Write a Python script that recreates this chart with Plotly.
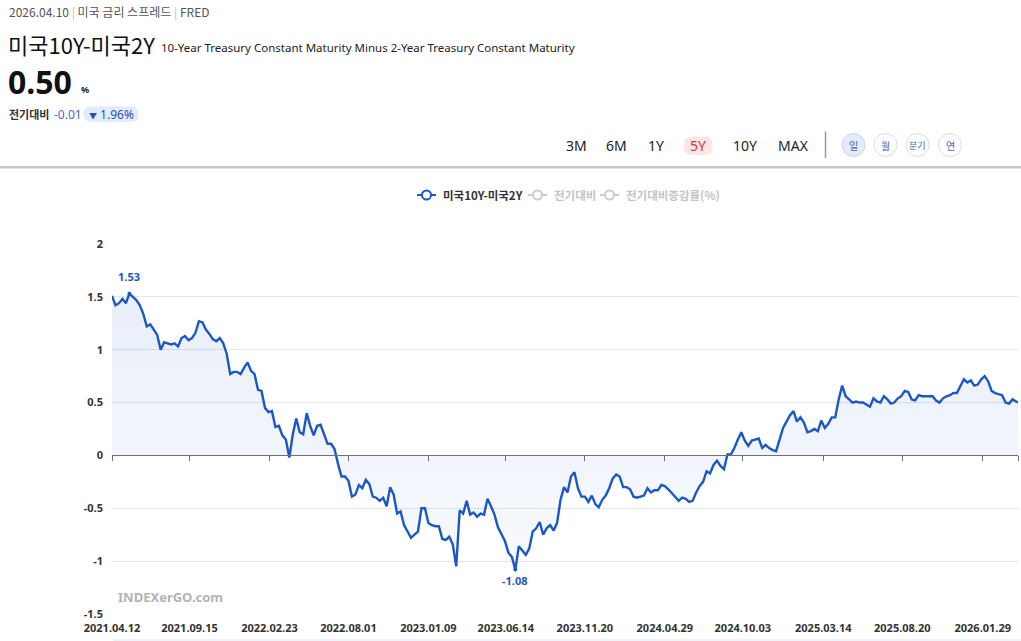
import plotly.graph_objects as go
import pandas as pd

# ---------------- data ----------------
DATES = [d.strftime("%Y-%m-%d") for d in pd.date_range("2021-04-12", periods=261, freq="7D")] + ["2026-04-10"]
SPREAD = [
    1.51, 1.42, 1.44, 1.48, 1.44, 1.53, 1.50, 1.47, 1.42, 1.34,
    1.22, 1.24, 1.19, 1.14, 1.00, 1.07, 1.06, 1.05, 1.06, 1.03,
    1.11, 1.13, 1.09, 1.11, 1.16, 1.27, 1.26, 1.19, 1.15, 1.10,
    1.08, 1.11, 1.06, 0.96, 0.77, 0.79, 0.79, 0.77, 0.83, 0.88,
    0.80, 0.77, 0.62, 0.61, 0.45, 0.41, 0.42, 0.27, 0.28, 0.19,
    0.15, -0.02, 0.20, 0.35, 0.22, 0.20, 0.40, 0.28, 0.19, 0.28,
    0.29, 0.20, 0.11, 0.11, 0.06, -0.08, -0.20, -0.20, -0.24, -0.39,
    -0.37, -0.28, -0.31, -0.23, -0.27, -0.39, -0.40, -0.43, -0.40, -0.48,
    -0.30, -0.37, -0.55, -0.53, -0.66, -0.72, -0.78, -0.75, -0.72, -0.50,
    -0.50, -0.64, -0.66, -0.67, -0.67, -0.79, -0.80, -0.77, -0.84, -1.05,
    -0.52, -0.55, -0.43, -0.56, -0.54, -0.58, -0.55, -0.56, -0.41, -0.48,
    -0.56, -0.68, -0.75, -0.81, -0.92, -0.96, -1.08, -0.86, -0.90, -0.94,
    -0.88, -0.72, -0.69, -0.63, -0.75, -0.69, -0.66, -0.71, -0.64, -0.42,
    -0.30, -0.35, -0.20, -0.16, -0.31, -0.39, -0.39, -0.44, -0.38, -0.46,
    -0.49, -0.42, -0.38, -0.31, -0.22, -0.18, -0.20, -0.30, -0.30, -0.32,
    -0.39, -0.40, -0.39, -0.38, -0.31, -0.35, -0.33, -0.33, -0.28, -0.29,
    -0.32, -0.36, -0.39, -0.43, -0.40, -0.41, -0.44, -0.43, -0.35, -0.29,
    -0.25, -0.15, -0.17, -0.09, -0.05, -0.10, -0.13, 0.01, 0.01, 0.07,
    0.15, 0.22, 0.14, 0.09, 0.14, 0.15, 0.16, 0.07, 0.10, 0.07,
    0.05, 0.04, 0.14, 0.26, 0.32, 0.38, 0.42, 0.32, 0.36, 0.31,
    0.22, 0.23, 0.25, 0.23, 0.33, 0.26, 0.30, 0.36, 0.36, 0.53,
    0.66, 0.56, 0.53, 0.50, 0.51, 0.50, 0.50, 0.48, 0.46, 0.54,
    0.51, 0.50, 0.56, 0.53, 0.49, 0.50, 0.54, 0.56, 0.61, 0.60,
    0.53, 0.52, 0.57, 0.56, 0.56, 0.56, 0.56, 0.52, 0.50, 0.54,
    0.56, 0.57, 0.59, 0.59, 0.66, 0.72, 0.69, 0.71, 0.66, 0.67,
    0.72, 0.75, 0.70, 0.61, 0.59, 0.58, 0.57, 0.50, 0.49, 0.53,
    0.51, 0.50,
]
TICK_DATES = ["2021-04-12", "2021-09-15", "2022-02-23", "2022-08-01", "2023-01-09", "2023-06-14",
              "2023-11-20", "2024-04-29", "2024-10-03", "2025-03-14", "2025-08-20", "2026-01-29"]
TICK_TEXT = ["2021.04.12", "2021.09.15", "2022.02.23", "2022.08.01", "2023.01.09", "2023.06.14",
             "2023.11.20", "2024.04.29", "2024.10.03", "2025.03.14", "2025.08.20", "2026.01.29"]
Y_TICKS = [-1.5, -1, -0.5, 0, 0.5, 1, 1.5, 2]
Y_TEXT = ["-1.5", "-1", "-0.5", "0", "0.5", "1", "1.5", "2"]
LEGEND_NAMES = ["미국10Y-미국2Y", "전기대비", "전기대비증감률(%)"]
PERIOD_BUTTONS = ["3M", "6M", "1Y", "5Y", "10Y", "MAX"]
FREQ_BUTTONS = ["일", "월", "분기", "연"]

# ---------------- geometry helpers ----------------
W, H = 1021, 641
L, R, T, B = 112, 3, 244, 27
PW, PH = W - L - R, H - T - B
YMIN, YMAX = -1.5, 2.0


def px(x):
    return (x - L) / PW


def py(y):
    return (H - B - y) / PH


def roundrect(x0, y0, x1, y1, r):
    return (f"M {px(x0 + r)},{py(y0)} L {px(x1 - r)},{py(y0)} Q {px(x1)},{py(y0)} {px(x1)},{py(y0 + r)} "
            f"L {px(x1)},{py(y1 - r)} Q {px(x1)},{py(y1)} {px(x1 - r)},{py(y1)} "
            f"L {px(x0 + r)},{py(y1)} Q {px(x0)},{py(y1)} {px(x0)},{py(y1 - r)} "
            f"L {px(x0)},{py(y0 + r)} Q {px(x0)},{py(y0)} {px(x0 + r)},{py(y0)} Z")


BLUE = "#1c58c5"
FONT = "Noto Sans, Noto Sans CJK KR, sans-serif"
KFONT = "Noto Sans CJK KR, Noto Sans, sans-serif"

fig = go.Figure()

# main series
fig.add_trace(go.Scatter(
    x=DATES, y=SPREAD, mode="lines", showlegend=False, name=LEGEND_NAMES[0],
    line=dict(color=BLUE, width=2.4),
    fill="tozeroy",
    fillgradient=dict(type="vertical",
                      colorscale=[[0, "rgba(28,88,197,0.02)"], [1, "rgba(28,88,197,0.10)"]],
                      start=YMIN, stop=1.6),
    hoverinfo="x+y",
))

# max / min points
imax = max(range(len(SPREAD)), key=lambda i: SPREAD[i])
imin = min(range(len(SPREAD)), key=lambda i: SPREAD[i])
fig.add_trace(go.Scatter(
    x=[DATES[imax], DATES[imin]], y=[SPREAD[imax], SPREAD[imin]],
    mode="markers", marker=dict(size=4, color=BLUE), showlegend=False, hoverinfo="skip",
))
fig.add_annotation(x=DATES[imax], y=SPREAD[imax], text=f"<b>{SPREAD[imax]:.2f}</b>", showarrow=False,
                   yshift=17, font=dict(size=11, color=BLUE, family=FONT))
fig.add_annotation(x=DATES[imin], y=SPREAD[imin], text=f"<b>{SPREAD[imin]:.2f}</b>", showarrow=False,
                   yshift=-11, font=dict(size=11, color=BLUE, family=FONT))

# invisible trace for the zero-axis tick marks
fig.add_trace(go.Scatter(x=[DATES[0], DATES[-1]], y=[None, None], xaxis="x2", showlegend=False,
                         hoverinfo="skip", mode="lines"))

# ---------------- header annotations ----------------
ann = []
shapes = []


def add_text(x, y, text, size, color, xanchor="left", family=FONT):
    ann.append(dict(xref="paper", yref="paper", x=px(x), y=py(y), text=text, showarrow=False,
                    xanchor=xanchor, yanchor="middle", font=dict(size=size, color=color, family=family)))


add_text(7, 12, "2026.04.10 <span style='color:#bbbbbb'>|</span> 미국 금리 스프레드 "
                "<span style='color:#bbbbbb'>|</span> FRED", 12, "#555555", family=KFONT)
add_text(6, 44, "미국10Y-미국2Y", 22, "#111111", family=KFONT)
add_text(159, 47, "10-Year Treasury Constant Maturity Minus 2-Year Treasury Constant Maturity", 11.5, "#222222")
add_text(6, 81, "<b>0.50</b>", 32, "#111111")
add_text(79, 89, "<b>%</b>", 9, "#222222")
add_text(7, 114, "<b>전기대비</b>", 11, "#333333", family=KFONT)
add_text(52, 114, "-0.01", 12, "#3b6bd6")
shapes.append(dict(type="path", xref="paper", yref="paper", path=roundrect(83.5, 106.5, 138.5, 122, 7.5),
                   fillcolor="#e3ecfb", line=dict(width=0), layer="below"))
add_text(111, 114, "<span style='font-size:8px'>▼</span> 1.96%", 12, "#2352b5", xanchor="center")

btn_x = [576, 616, 656, 698, 745, 793]
for b, xx in zip(PERIOD_BUTTONS, btn_x):
    add_text(xx, 145, b, 14, "#d9363b" if b == "5Y" else "#222222", xanchor="center")

circ_x = [853.5, 885.5, 917.5, 950]
for b, xx in zip(FREQ_BUTTONS, circ_x):
    add_text(xx, 145, b, 10 if len(b) == 1 else 9, "#4464b4", xanchor="center", family=KFONT)

add_text(116, 597, "<b>INDEXerGO.com</b>", 13, "#b3b3b3")

# legend (drawn manually to match spacing)
leg_icon_x = [417, 528, 600]
leg_text_x = [442, 553, 625]
leg_col = [BLUE, "#cccccc", "#cccccc"]
leg_txt_col = ["#333333", "#c4c4c4", "#c4c4c4"]
for name, ix, tx, c, tc in zip(LEGEND_NAMES, leg_icon_x, leg_text_x, leg_col, leg_txt_col):
    shapes.append(dict(type="line", xref="paper", yref="paper", x0=px(ix), x1=px(ix + 19),
                       y0=py(195), y1=py(195), line=dict(color=c, width=2)))
    shapes.append(dict(type="circle", xref="paper", yref="paper", x0=px(ix + 5), x1=px(ix + 14),
                       y0=py(199.5), y1=py(190.5), fillcolor="white", line=dict(color=c, width=2)))
    add_text(tx - 1, 195, f"<b>{name}</b>", 11.5, tc, family=KFONT)

shapes.append(dict(type="path", xref="paper", yref="paper", path=roundrect(684, 136.5, 712.5, 155, 8),
                   fillcolor="#fde5e5", line=dict(width=0), layer="below"))
for i, xx in enumerate(circ_x):
    shapes.append(dict(type="circle", xref="paper", yref="paper",
                       x0=px(xx - 11.5), x1=px(xx + 11.5), y0=py(156.5), y1=py(133.5),
                       fillcolor="#e3ebf8" if i == 0 else "white",
                       line=dict(color="#c9d5ee" if i == 0 else "#dcdcdc", width=1), layer="below"))
shapes.append(dict(type="line", xref="paper", yref="paper", x0=px(825.5), x1=px(825.5),
                   y0=py(131.5), y1=py(158), line=dict(color="#999999", width=1.5)))
shapes.append(dict(type="line", xref="paper", yref="paper", x0=px(0), x1=px(W),
                   y0=py(167.3), y1=py(167.3), line=dict(color="#c8c8c8", width=2.5)))
shapes.append(dict(type="line", xref="paper", yref="paper", x0=px(113), x1=px(W),
                   y0=py(640), y1=py(640), line=dict(color="#e0e6f1", width=1)))

fig.update_layout(
    width=W, height=H,
    margin=dict(l=L, r=R, t=T, b=B, pad=0),
    paper_bgcolor="white", plot_bgcolor="white",
    font=dict(family=FONT, color="#333333"),
    showlegend=False,
    xaxis=dict(type="date", range=[DATES[0], DATES[-1]], tickvals=TICK_DATES, ticktext=TICK_TEXT,
               showgrid=False, showline=False, zeroline=False, ticks="outside", ticklen=4,
               tickcolor="rgba(0,0,0,0)", tickfont=dict(size=11, color="#333333", family=FONT, weight="bold")),
    xaxis2=dict(type="date", overlaying="x", anchor="free", position=(0 - YMIN) / (YMAX - YMIN),
                range=[DATES[0], DATES[-1]], tickvals=TICK_DATES + [DATES[-1]], showticklabels=False,
                ticks="outside", ticklen=5, tickcolor="#6e7079", showline=True, linecolor="#6e7079",
                linewidth=1, showgrid=False, zeroline=False),
    yaxis=dict(range=[YMIN, YMAX], tickvals=Y_TICKS, ticktext=Y_TEXT, gridcolor="#e0e6f1", gridwidth=1,
               zeroline=False, showline=False, ticks="", ticklabelstandoff=8,
               tickfont=dict(size=11, color="#333333", family=FONT, weight="bold")),
    annotations=fig.layout.annotations + tuple(ann),
    shapes=shapes,
    hovermode="x",
)

fig.write_html("out.html", config={"displayModeBar": False},
               post_script="document.body.style.margin='0';document.body.style.overflow='hidden';")
